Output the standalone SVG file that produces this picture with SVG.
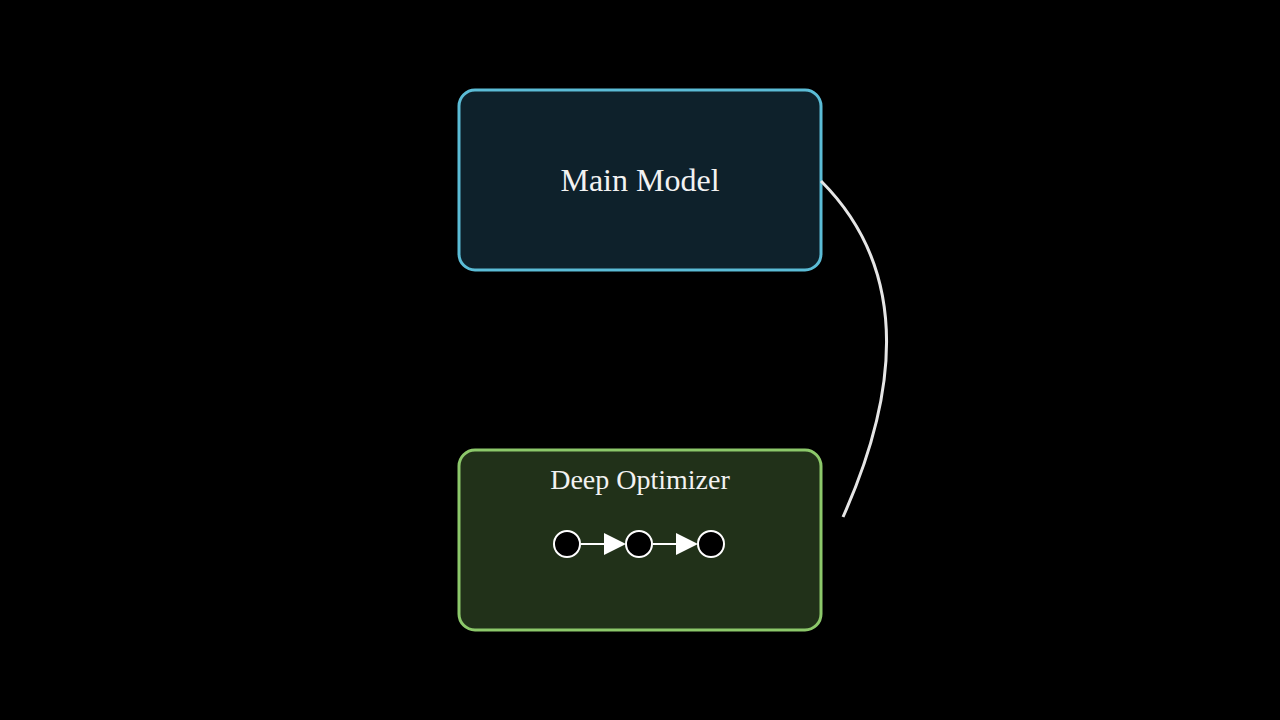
<svg xmlns="http://www.w3.org/2000/svg" width="1280" height="720" viewBox="0 0 1280 720">
<style>
.t{font-family:"Liberation Serif",serif;fill:#f2f2f2;text-anchor:middle}
.c{fill:#000;stroke:#fff;stroke-width:2}
</style>
<rect width="1280" height="720" fill="#000"/>
<g id="main-model">
<rect x="459" y="90" width="362" height="180" rx="16" fill="#0e212b" stroke="#5bbcd6" stroke-width="3"/>
<text class="t" x="640" y="191" font-size="32">Main Model</text>
</g>
<g id="deep-optimizer">
<rect x="459" y="450" width="362" height="180" rx="16" fill="#213119" stroke="#8cc86a" stroke-width="3"/>
<text class="t" x="640" y="489" font-size="28">Deep Optimizer</text>
<line x1="581" y1="544" x2="606" y2="544" stroke="#fff" stroke-width="2"/>
<polygon points="604,533 626,544 604,555" fill="#fff"/>
<line x1="653" y1="544" x2="678" y2="544" stroke="#fff" stroke-width="2"/>
<polygon points="676,533 698,544 676,555" fill="#fff"/>
<circle class="c" cx="567" cy="544" r="13"/>
<circle class="c" cx="639" cy="544" r="13"/>
<circle class="c" cx="711" cy="544" r="13"/>
</g>
<g id="connectors">
<path d="M821,181 Q940,300 843,517" fill="none" stroke="#e6e6e6" stroke-width="3"/>
</g>
</svg>
